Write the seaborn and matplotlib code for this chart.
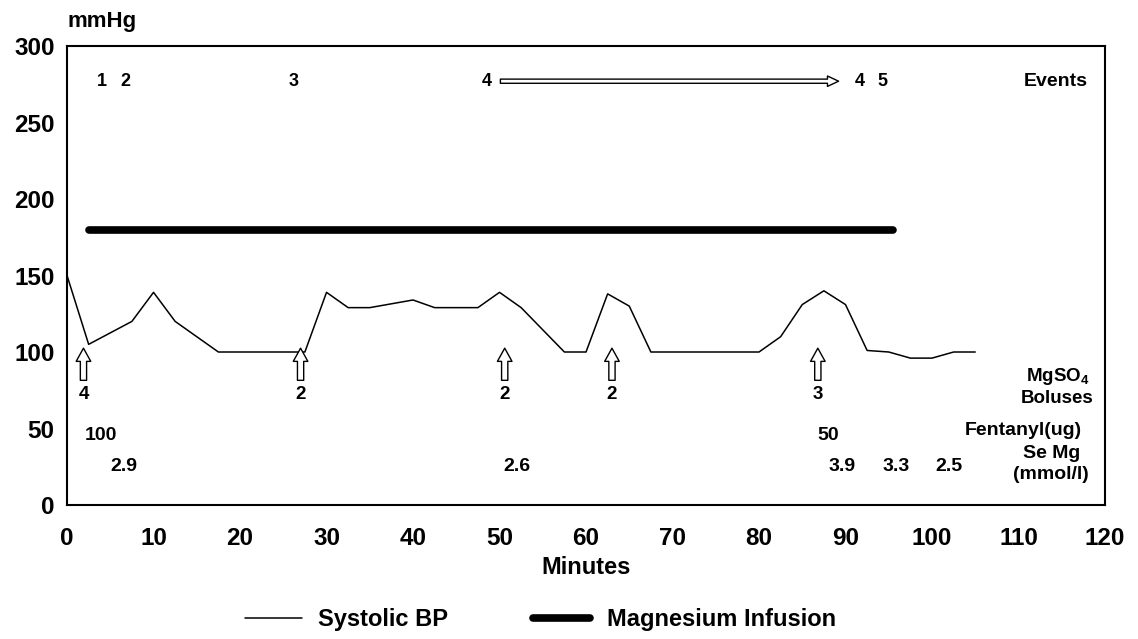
import matplotlib
matplotlib.use("Agg")
import matplotlib.pyplot as plt
import seaborn as sns
import pandas as pd

# Systolic blood pressure over time (minutes, mmHg)
bp_minutes = [0, 2.5, 7.5, 10, 12.5, 17.5, 27.5, 30, 32.5, 35, 40, 42.5, 47.5,
              50, 52.5, 57.5, 60, 62.5, 65, 67.5, 80, 82.5, 85, 87.5, 90, 92.5,
              95, 97.5, 100, 102.5, 105]
bp_mmhg = [150, 105, 120, 139, 120, 100, 100, 139, 129, 129, 134, 129, 129,
           139, 129, 100, 100, 138, 130, 100, 100, 110, 131, 140, 131, 101,
           100, 96, 96, 100, 100]

# Magnesium infusion period
infusion_minutes = [2.5, 95.5]
infusion_level = [180, 180]

# Event markers along the top
event_labels = ["1", "2", "3", "4", "4", "5"]
event_minutes = [4.0, 6.7, 26.2, 48.5, 91.6, 94.3]
event_arrow_span = [50.1, 89.2]

# MgSO4 boluses (g)
bolus_minutes = [1.9, 27.0, 50.6, 63.0, 86.8]
bolus_doses = ["4", "2", "2", "2", "3"]

# Fentanyl doses (ug)
fentanyl_minutes = [3.9, 88.0]
fentanyl_doses = ["100", "50"]

# Serum magnesium (mmol/l)
semg_minutes = [6.6, 52.0, 89.6, 95.8, 102.0]
semg_values = ["2.9", "2.6", "3.9", "3.3", "2.5"]

x_ticks = list(range(0, 121, 10))
y_ticks = list(range(0, 301, 50))

sns.set_theme(style="white")
plt.rcParams["font.family"] = ["Liberation Sans", "DejaVu Sans"]
plt.rcParams["mathtext.default"] = "regular"
plt.rcParams["text.color"] = "black"
plt.rcParams["axes.labelcolor"] = "black"

fig = plt.figure(figsize=(11.38, 6.39), dpi=100)
ax = fig.add_axes([0.0589, 0.2097, 0.9121, 0.7183])

bp_df = pd.DataFrame({"Minutes": bp_minutes, "mmHg": bp_mmhg})
inf_df = pd.DataFrame({"Minutes": infusion_minutes, "mmHg": infusion_level})

sns.lineplot(data=bp_df, x="Minutes", y="mmHg", ax=ax, color="black",
             linewidth=1.1, label="Systolic BP")
sns.lineplot(data=inf_df, x="Minutes", y="mmHg", ax=ax, color="black",
             linewidth=5.5, solid_capstyle="round", label="Magnesium Infusion")

ax.set_xlim(0, 120)
ax.set_ylim(0, 300)
ax.set_xticks(x_ticks)
ax.set_yticks(y_ticks)
ax.tick_params(axis="x", direction="in", length=7, width=1.2, pad=16,
               labelsize=17.5, colors="black")
ax.tick_params(axis="y", direction="in", length=9, width=1.2, pad=9,
               labelsize=17.5, colors="black")
for lab in ax.get_xticklabels() + ax.get_yticklabels():
    lab.set_fontweight("bold")
for sp in ax.spines.values():
    sp.set_visible(True)
    sp.set_color("black")
    sp.set_linewidth(1.5)

ax.set_xlabel("Minutes", fontsize=17, fontweight="bold", labelpad=4,
              color="black")
ax.set_ylabel("")
ax.text(0.0, 1.03, "mmHg", transform=ax.transAxes, fontsize=16,
        fontweight="bold", ha="left", va="bottom", color="black")

# Events row
ev_y = 277
for lbl, m in zip(event_labels, event_minutes):
    ax.text(m, ev_y, lbl, fontsize=13, fontweight="bold", ha="center",
            va="center", color="black")
ax.annotate("", xy=(event_arrow_span[1], ev_y), xytext=(event_arrow_span[0], ev_y),
            arrowprops=dict(arrowstyle="simple,head_length=0.8,head_width=0.75,tail_width=0.3",
                            mutation_scale=10, fc="white", ec="black", lw=1,
                            shrinkA=0, shrinkB=0))
ax.text(118.0, ev_y, "Events", fontsize=14, fontweight="bold", ha="right",
        va="center", color="black")

# Bolus arrows
for m, d in zip(bolus_minutes, bolus_doses):
    ax.annotate("", xy=(m, 102.5), xytext=(m, 81.5),
                arrowprops=dict(arrowstyle="simple,head_length=0.95,head_width=1.05,tail_width=0.45",
                                mutation_scale=10, fc="white", ec="black", lw=1,
                                shrinkA=0, shrinkB=0))
    ax.text(m, 72, d, fontsize=13.5, fontweight="bold", ha="center",
            va="center", color="black")
ax.text(114.5, 77.5, "MgSO$_{4}$\nBoluses", fontsize=13.5, fontweight="bold",
        ha="center", va="center", linespacing=1.25, color="black")

# Fentanyl
for m, d in zip(fentanyl_minutes, fentanyl_doses):
    ax.text(m, 45.5, d, fontsize=14, fontweight="bold", ha="center",
            va="center", color="black")
ax.text(117.3, 49, "Fentanyl(ug)", fontsize=14, fontweight="bold",
        ha="right", va="center", color="black")

# Serum magnesium
for m, v in zip(semg_minutes, semg_values):
    ax.text(m, 25, v, fontsize=14, fontweight="bold", ha="center",
            va="center", color="black")
ax.text(113.8, 27, "Se Mg\n(mmol/l)", fontsize=14, fontweight="bold",
        ha="center", va="center", linespacing=1.3, color="black")

handles, labels = ax.get_legend_handles_labels()
ax.legend_.remove()
leg = fig.legend(handles, labels, loc="center", bbox_to_anchor=(0.475, 0.03),
                 ncol=2, frameon=False, handlelength=2.4,
                 handletextpad=0.7, columnspacing=3.6,
                 prop={"weight": "bold", "size": 17})
for t in leg.get_texts():
    t.set_color("black")

fig.savefig("out.png", dpi=100)
